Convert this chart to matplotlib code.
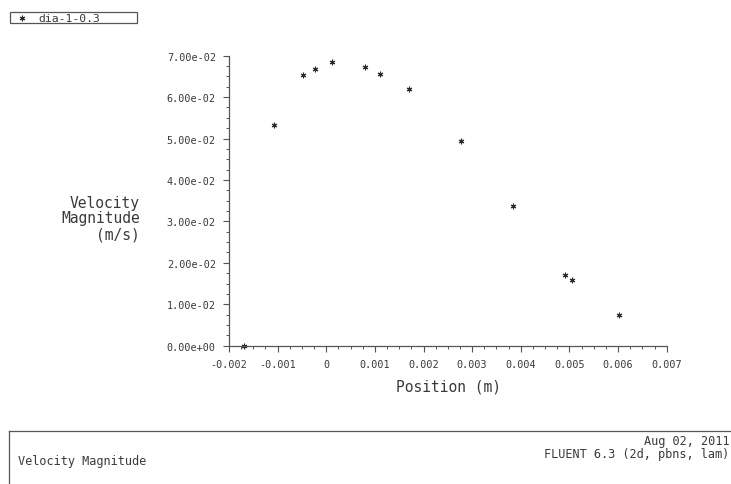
import matplotlib
matplotlib.use("Agg")
import matplotlib.pyplot as plt
from matplotlib.ticker import MultipleLocator, FuncFormatter

# Dados (posição em m, velocidade em m/s)
position = [-0.001686, -0.001075, -0.000479, -0.000226, 0.000117, 0.000790,
            0.001110, 0.001694, 0.002764, 0.003833, 0.004908, 0.005046, 0.006013]
velocity = [0.0, 0.0533, 0.0654, 0.0667, 0.0686, 0.0672,
            0.0657, 0.0620, 0.0494, 0.0338, 0.01706, 0.01593, 0.00741]
series_name = "dia-1-0.3"

W, H = 731, 485
ink = "#3a3a3a"
mono = "DejaVu Sans Mono"

fig = plt.figure(figsize=(W / 100, H / 100), dpi=100)
ax = fig.add_axes([229 / W, 1 - 346.7 / H, 437.7 / W, 290 / H])

ax.plot(position, velocity, linestyle="none", marker=(6, 2, 0), markersize=4,
        markeredgewidth=0.8, color="#2a2a2a", clip_on=False)

ax.set_xlim(-0.002, 0.007)
ax.set_ylim(0, 0.07)

# Só eixos esquerdo e inferior, como no Fluent
for side in ("top", "right"):
    ax.spines[side].set_visible(False)
for side in ("left", "bottom"):
    ax.spines[side].set_color("#555555")
    ax.spines[side].set_linewidth(0.9)

ax.xaxis.set_major_locator(MultipleLocator(0.001))
ax.xaxis.set_minor_locator(MultipleLocator(0.00025))
ax.yaxis.set_major_locator(MultipleLocator(0.01))
ax.yaxis.set_minor_locator(MultipleLocator(0.0025))

ax.xaxis.set_major_formatter(FuncFormatter(lambda v, p: "0" if abs(v) < 1e-9 else f"{v:.3f}"))
ax.yaxis.set_major_formatter(FuncFormatter(lambda v, p: f"{v:.2e}"))

ax.tick_params(which="major", direction="out", length=4.5, width=0.8, color="#555555",
               labelsize=7.3, labelcolor=ink, pad=5)
ax.tick_params(which="minor", direction="out", length=2.3, width=0.7, color="#555555")
for lab in ax.get_xticklabels() + ax.get_yticklabels():
    lab.set_family(mono)

# Rótulos dos eixos
fig.text(448 / W, 1 - 387 / H, "Position (m)", family=mono, fontsize=10.5,
         color=ink, ha="center", va="center")
fig.text(140 / W, 1 - 219 / H, "Velocity\nMagnitude\n(m/s)", family=mono, fontsize=10.5,
         color=ink, ha="right", va="center", multialignment="right", linespacing=1.05)

# Legenda no canto superior esquerdo
fig.add_artist(plt.Rectangle((10 / W, 1 - 24 / H), 127 / W, 10.7 / H,
                             transform=fig.transFigure, fill=False,
                             edgecolor="#555555", linewidth=0.9))
fig.add_artist(plt.Line2D([21.7 / W], [1 - 19 / H], transform=fig.transFigure,
                          marker=(6, 2, 0), markersize=4, markeredgewidth=0.8,
                          color="#2a2a2a", linestyle="none"))
fig.text(38 / W, 1 - 18.8 / H, series_name, family=mono, fontsize=8.2,
         color=ink, ha="left", va="center")

# Caixa de título inferior
fig.add_artist(plt.Line2D([9.3 / W, 1.0], [1 - 432.3 / H, 1 - 432.3 / H],
                          transform=fig.transFigure, color="#555555", linewidth=0.9))
fig.add_artist(plt.Line2D([9.3 / W, 9.3 / W], [1 - 432.3 / H, 0.0],
                          transform=fig.transFigure, color="#555555", linewidth=0.9))
fig.text(18 / W, 1 - 461.5 / H, "Velocity Magnitude", family=mono, fontsize=8.6,
         color=ink, ha="left", va="center")
fig.text(729 / W, 1 - 441.5 / H, "Aug 02, 2011", family=mono, fontsize=8.6,
         color=ink, ha="right", va="center")
fig.text(729 / W, 1 - 455 / H, "FLUENT 6.3 (2d, pbns, lam)", family=mono, fontsize=8.6,
         color=ink, ha="right", va="center")

fig.savefig("out.png", dpi=100, facecolor="white")
